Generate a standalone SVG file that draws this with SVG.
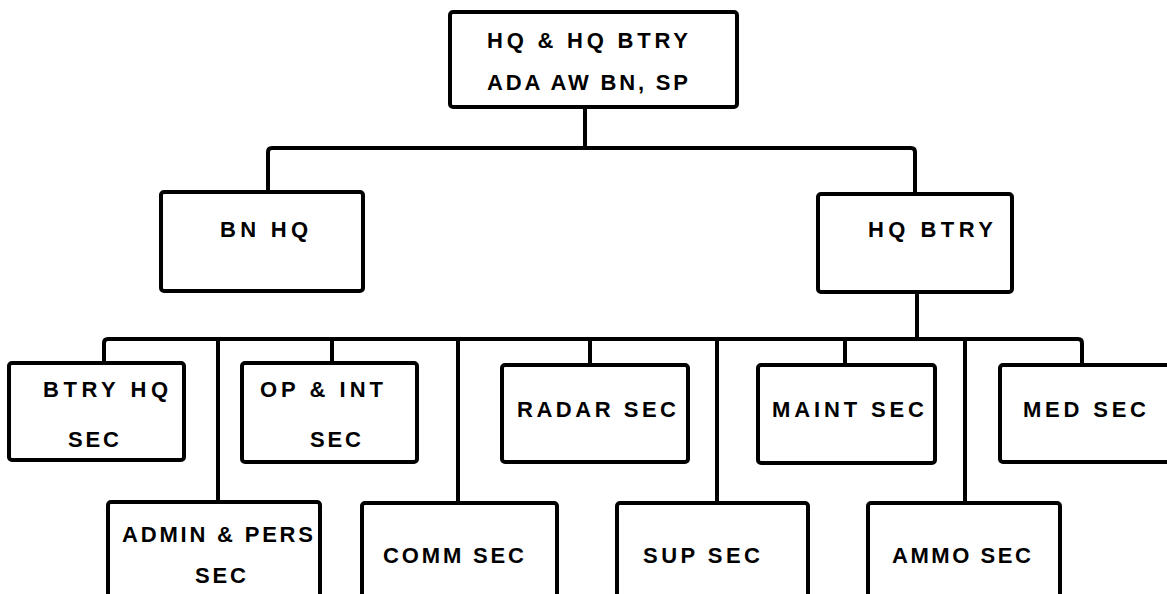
<svg xmlns="http://www.w3.org/2000/svg" width="1167" height="594" viewBox="0 0 1167 594">
<style>
.box{fill:#fff;stroke:#000;stroke-width:4}
.ln{fill:none;stroke:#000;stroke-width:4;stroke-linejoin:round}
text{font-family:"Liberation Sans",Arial,sans-serif;font-weight:bold;font-size:22px;fill:#000}
</style>
<rect width="1167" height="594" fill="#fff"/>
<g id="connectors">
<path class="ln" d="M585,107 V148"/>
<path class="ln" d="M268,192 V152 Q268,148 272,148 H911 Q915,148 915,152 V194"/>
<path class="ln" d="M917,292 V339"/>
<path class="ln" d="M104,363 V343 Q104,339 108,339 H1078 Q1082,339 1082,343 V365"/>
<path class="ln" d="M332,339 V363"/>
<path class="ln" d="M590,339 V365"/>
<path class="ln" d="M845,339 V365"/>
<path class="ln" d="M218,339 V502"/>
<path class="ln" d="M458,339 V503"/>
<path class="ln" d="M717,339 V503"/>
<path class="ln" d="M965,339 V503"/>
</g>
<g id="n-top">
<rect class="box" x="450" y="12" width="287" height="95" rx="3"/>
<text x="487" y="48" textLength="201" lengthAdjust="spacing">HQ &amp; HQ BTRY</text>
<text x="487" y="90" textLength="201" lengthAdjust="spacing">ADA AW BN, SP</text>
</g>
<g id="n-bnhq">
<rect class="box" x="161" y="192" width="202" height="99" rx="3"/>
<text x="220" y="237" textLength="88" lengthAdjust="spacing">BN HQ</text>
</g>
<g id="n-hqbtry">
<rect class="box" x="818" y="194" width="194" height="98" rx="3"/>
<text x="868" y="237" textLength="125" lengthAdjust="spacing">HQ BTRY</text>
</g>
<g id="n-btryhq">
<rect class="box" x="9" y="363" width="175" height="97" rx="3"/>
<text x="43" y="397" textLength="125" lengthAdjust="spacing">BTRY HQ</text>
<text x="68" y="447" textLength="51" lengthAdjust="spacing">SEC</text>
</g>
<g id="n-opint">
<rect class="box" x="242" y="363" width="175" height="99" rx="3"/>
<text x="260" y="397" textLength="123" lengthAdjust="spacing">OP &amp; INT</text>
<text x="310" y="447" textLength="51" lengthAdjust="spacing">SEC</text>
</g>
<g id="n-radar">
<rect class="box" x="502" y="365" width="186" height="97" rx="3"/>
<text x="517" y="417" textLength="159" lengthAdjust="spacing">RADAR SEC</text>
</g>
<g id="n-maint">
<rect class="box" x="758" y="365" width="177" height="98" rx="3"/>
<text x="772" y="417" textLength="152" lengthAdjust="spacing">MAINT SEC</text>
</g>
<g id="n-med">
<rect class="box" x="1000" y="365" width="170" height="97" rx="3"/>
<text x="1023" y="417" textLength="123" lengthAdjust="spacing">MED SEC</text>
</g>
<g id="n-admin">
<rect class="box" x="108" y="502" width="212" height="100" rx="3"/>
<text x="122" y="542" textLength="191" lengthAdjust="spacing">ADMIN &amp; PERS</text>
<text x="195" y="583" textLength="51" lengthAdjust="spacing">SEC</text>
</g>
<g id="n-comm">
<rect class="box" x="362" y="503" width="195" height="100" rx="3"/>
<text x="383" y="563" textLength="141" lengthAdjust="spacing">COMM SEC</text>
</g>
<g id="n-sup">
<rect class="box" x="617" y="503" width="191" height="100" rx="3"/>
<text x="643" y="563" textLength="117" lengthAdjust="spacing">SUP SEC</text>
</g>
<g id="n-ammo">
<rect class="box" x="868" y="503" width="192" height="100" rx="3"/>
<text x="892" y="563" textLength="139" lengthAdjust="spacing">AMMO SEC</text>
</g>
</svg>
